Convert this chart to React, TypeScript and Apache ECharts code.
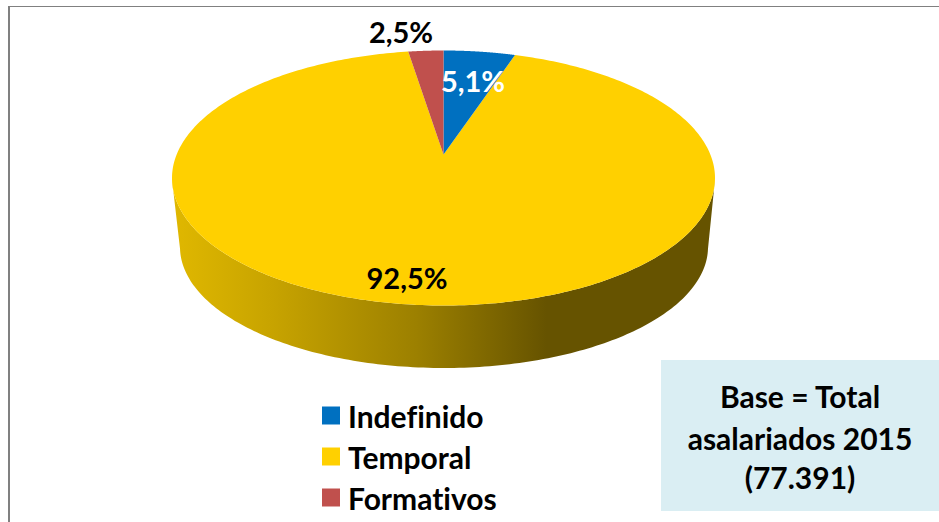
import React, { useEffect, useRef } from "react";
import * as echarts from "echarts";

const categories = ["Indefinido", "Temporal", "Formativos"];
const shares = [5.1, 92.5, 2.5];
const shareLabels = ["5,1%", "92,5%", "2,5%"];
const sliceColors = ["#0070C0", "#FFD000", "#C0504D"];
const labelColors = ["#FFFFFF", "#000000", "#000000"];
const baseLines = ["Base = Total", "asalariados 2015", "(77.391)"];

const FONT = "Lato";
const TOP = { cx: 443.5, cy: 178, rx: 271.5, ry: 127.5 };
const BOTTOM = { cx: 444, cy: 247, rx: 264, ry: 121 };
const K = 0.184; // perspective shift of the pie centre
const LABEL_POS = [
  [473, 80],
  [407, 277],
  [401, 31],
];
const BASE_Y = [396, 438, 477];

const total = shares.reduce((a, b) => a + b, 0);

function project(theta: number, e: typeof TOP): [number, number] {
  const x = Math.sin(theta);
  const y = Math.cos(theta);
  const d = 1 + K * y;
  const xn = (x * Math.sqrt(1 - K * K)) / d;
  const yn = (y + K) / d;
  return [e.cx + e.rx * xn, e.cy - e.ry * yn];
}

function isFront(theta: number) {
  return (Math.cos(theta) + K) / (1 + K * Math.cos(theta)) <= 0;
}

function sliceRange(i: number): [number, number] {
  const before = shares.slice(0, i).reduce((a, b) => a + b, 0);
  return [
    (before / total) * Math.PI * 2,
    ((before + shares[i]) / total) * Math.PI * 2,
  ];
}

const wallFill = new echarts.graphic.LinearGradient(
  172,
  0,
  715,
  0,
  [
    { offset: 0, color: "#E0B800" },
    { offset: 0.18, color: "#C8A400" },
    { offset: 0.45, color: "#9C8000" },
    { offset: 0.69, color: "#665300" },
    { offset: 1, color: "#665300" },
  ],
  true
);

function makeRenderItem(i: number) {
  return () => {
    const [a0, a1] = sliceRange(i);
    const steps = 360;
    const rim: [number, number][] = [];
    const wallTop: [number, number][] = [];
    const wallBottom: [number, number][] = [];
    for (let s = 0; s <= steps; s++) {
      const t = a0 + ((a1 - a0) * s) / steps;
      rim.push(project(t, TOP));
      if (isFront(t)) {
        wallTop.push(project(t, TOP));
        wallBottom.push(project(t, BOTTOM));
      }
    }
    const apex: [number, number] = [TOP.cx, TOP.cy - TOP.ry * K];
    const children: any[] = [];
    if (wallTop.length > 1) {
      children.push({
        type: "polygon",
        shape: { points: [...wallTop, ...wallBottom.reverse()] },
        style: { fill: wallFill },
      });
    }
    children.push({
      type: "polygon",
      shape: { points: [apex, ...rim] },
      style: { fill: sliceColors[i] },
    });
    children.push({
      type: "text",
      x: LABEL_POS[i][0],
      y: LABEL_POS[i][1],
      z2: 10,
      style: {
        text: shareLabels[i],
        fill: labelColors[i],
        font: `bold 29px ${FONT}`,
        align: "center",
        verticalAlign: "middle",
      },
    });
    return { type: "group", children };
  };
}

export default function App() {
  const ref = useRef<HTMLDivElement>(null);
  useEffect(() => {
    const chart = echarts.init(ref.current!, undefined, { renderer: "svg" });
    chart.setOption({
      animation: false,
      backgroundColor: "#FFFFFF",
      legend: {
        data: categories,
        orient: "vertical",
        left: 322,
        top: 399,
        padding: 0,
        itemWidth: 18,
        itemHeight: 18,
        itemGap: 8,
        itemStyle: { borderWidth: 0 },
        icon: "rect",
        selectedMode: false,
        textStyle: {
          fontFamily: FONT,
          fontWeight: "bold",
          fontSize: 30,
          lineHeight: 30,
          color: "#000000",
          padding: [0, 0, 3, 3],
        },
      },
      series: categories.map((name, i) => ({
        type: "custom",
        name,
        coordinateSystem: "none",
        z: name === "Temporal" ? 1 : 2,
        silent: true,
        itemStyle: { color: sliceColors[i] },
        data: [[shares[i]]],
        renderItem: makeRenderItem(i),
      })),
      graphic: [
        {
          type: "rect",
          shape: { x: 661, y: 360, width: 278, height: 151 },
          style: { fill: "#DAEEF3" },
        },
        ...baseLines.map((text, i) => ({
          type: "text",
          x: 800,
          y: BASE_Y[i],
          style: {
            text,
            fill: "#000000",
            font: `bold 30px ${FONT}`,
            align: "center",
            verticalAlign: "middle",
          },
        })),
        {
          type: "line",
          shape: { x1: 8, y1: 6.5, x2: 939, y2: 6.5 },
          style: { stroke: "#808080", lineWidth: 1 },
        },
        {
          type: "line",
          shape: { x1: 9, y1: 6, x2: 9, y2: 522 },
          style: { stroke: "#808080", lineWidth: 2 },
        },
      ],
    });
    return () => chart.dispose();
  }, []);
  return (
    <div
      ref={ref}
      style={{
        position: "fixed",
        left: 0,
        top: 0,
        width: 939,
        height: 522,
        fontVariantLigatures: "none",
      }}
    />
  );
}
